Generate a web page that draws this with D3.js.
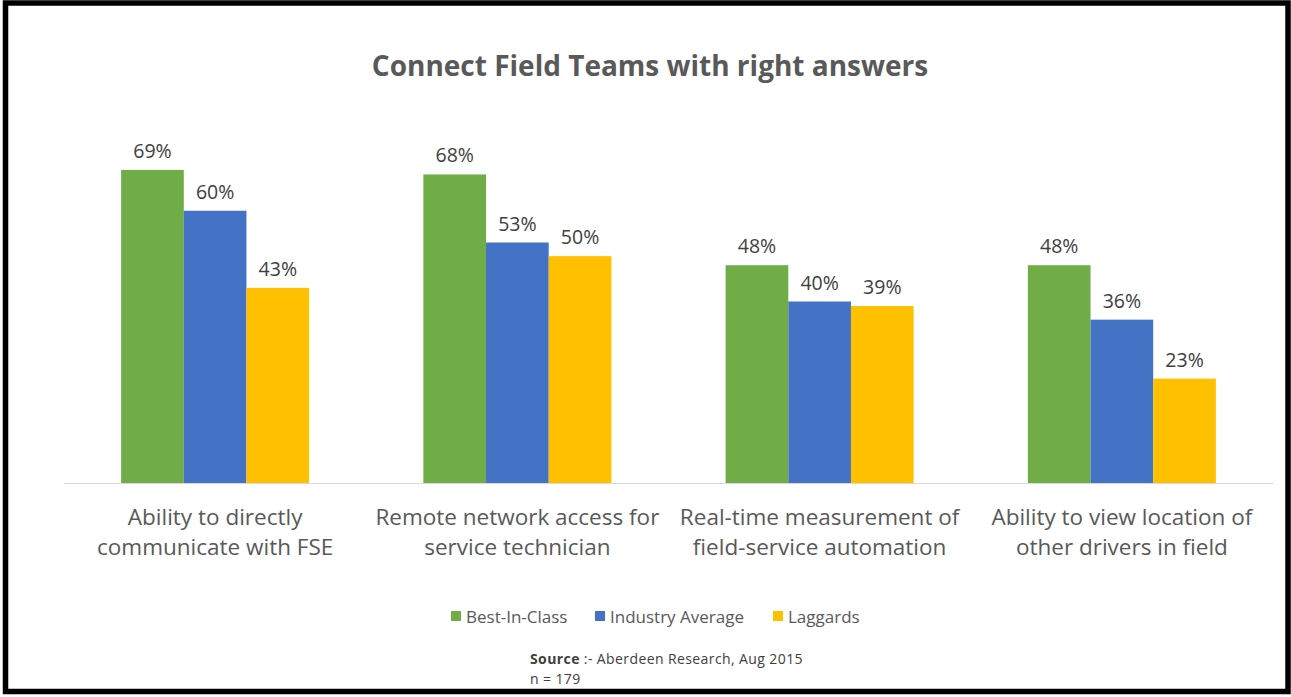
<!DOCTYPE html>
<html>
<head>
<meta charset="utf-8">
<script src="https://cdn.jsdelivr.net/npm/d3@7"></script>
<style>
  html, body { margin: 0; padding: 0; background: #fff; }
  svg { display: block; }
  text { font-family: "Open Sans", "Noto Sans", sans-serif; }
</style>
</head>
<body>
<svg id="chart" width="1291" height="697"></svg>
<script>
const categories = [
  ["Ability to directly", "communicate with FSE"],
  ["Remote network access for", "service technician"],
  ["Real-time measurement of", "field-service automation"],
  ["Ability to view location of", "other drivers in field"]
];
const seriesNames = ["Best-In-Class", "Industry Average", "Laggards"];
const bestInClass = [0.69, 0.68, 0.48, 0.48];
const industryAverage = [0.60, 0.53, 0.40, 0.36];
const laggards = [0.43, 0.50, 0.39, 0.23];
const seriesColors = ["#70AD47", "#4472C4", "#FFC000"];
const title = "Connect Field Teams with right answers";

const seriesValues = [bestInClass, industryAverage, laggards];
const catKeys = categories.map((c, i) => "c" + i);

const svg = d3.select("#chart");

// frame
svg.append("rect").attr("x", 5.5).attr("y", 3).attr("width", 1282.5).attr("height", 688.5)
  .attr("fill", "#fff").attr("stroke", "#000").attr("stroke-width", 5.5);

const x0 = d3.scaleBand().domain(catKeys).range([64, 1273]).paddingInner(0.378).paddingOuter(0.189);
const x1 = d3.scaleBand().domain(seriesNames).range([0, x0.bandwidth()]);
const y = d3.scaleLinear().domain([0, 0.8]).range([483, 120]);

// title
svg.append("text").attr("x", 650).attr("y", 76).attr("text-anchor", "middle")
  .attr("font-size", 28).attr("font-weight", "bold").attr("fill", "#595959").text(title);

// bars
const groups = svg.append("g").selectAll("g").data(catKeys).join("g")
  .attr("transform", d => `translate(${x0(d)},0)`);

groups.each(function(k, ci) {
  const g = d3.select(this);
  const data = seriesNames.map((s, si) => ({ s, v: seriesValues[si][ci], c: seriesColors[si] }));
  g.selectAll("rect").data(data).join("rect")
    .attr("x", d => x1(d.s)).attr("width", x1.bandwidth())
    .attr("y", d => y(d.v)).attr("height", d => y(0) - y(d.v))
    .attr("fill", d => d.c);
  g.selectAll("text.val").data(data).join("text").attr("class", "val")
    .attr("x", d => x1(d.s) + x1.bandwidth() / 2).attr("y", d => y(d.v) - 12)
    .attr("text-anchor", "middle").attr("font-size", 19.5).attr("fill", "#404040")
    .text(d => d3.format(".0%")(d.v));
});

// axis
const xAxis = d3.axisBottom(x0).tickSize(0).tickFormat("");
const ax = svg.append("g").attr("transform", `translate(0,${y(0)})`).call(xAxis);
ax.select(".domain").attr("stroke", "#d9d9d9").attr("stroke-width", 1);

// category labels
catKeys.forEach((k, i) => {
  const t = svg.append("text").attr("text-anchor", "middle").attr("font-size", 22.5).attr("fill", "#595959");
  categories[i].forEach((line, li) => {
    t.append("tspan").attr("x", x0(k) + x0.bandwidth() / 2).attr("y", 525 + li * 30).text(line);
  });
});

// legend
const legendX = [451, 595, 773];
const lg = svg.append("g");
seriesNames.forEach((s, i) => {
  lg.append("rect").attr("x", legendX[i]).attr("y", 611).attr("width", 10).attr("height", 10).attr("fill", seriesColors[i]);
  lg.append("text").attr("x", legendX[i] + 15).attr("y", 622.5).attr("font-size", 17).attr("fill", "#595959").text(s);
});

// source
const src = svg.append("text").attr("x", 530).attr("y", 664).attr("font-size", 14)
  .attr("letter-spacing", 0.4).attr("fill", "#404040");
src.append("tspan").attr("font-weight", "bold").text("Source");
src.append("tspan").text(" :- Aberdeen Research, Aug 2015");
svg.append("text").attr("x", 530).attr("y", 684).attr("font-size", 14)
  .attr("letter-spacing", 0.4).attr("fill", "#404040").text("n = 179");
</script>
</body>
</html>
